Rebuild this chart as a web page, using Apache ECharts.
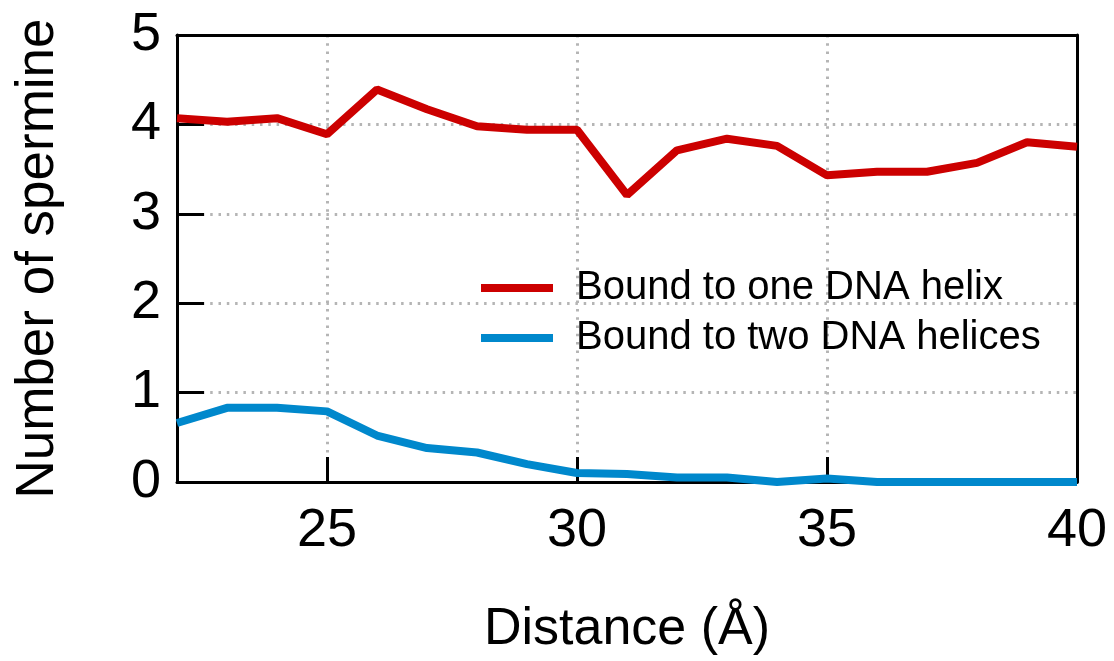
<!DOCTYPE html>
<html>
<head>
<meta charset="utf-8">
<script src="https://cdn.jsdelivr.net/npm/echarts@6/dist/echarts.min.js"></script>
<style>
html,body{margin:0;padding:0;background:#fff;}
#chart{width:1114px;height:661px;}
</style>
</head>
<body>
<div id="chart"></div>
<script>
var distances = [22,23,24,25,26,27,28,29,30,31,32,33,34,35,36,37,38,39,40];
var boundOne = [4.07,4.03,4.07,3.89,4.39,4.17,3.98,3.94,3.94,3.21,3.71,3.84,3.76,3.43,3.47,3.47,3.57,3.80,3.75];
var boundTwo = [0.66,0.83,0.83,0.79,0.52,0.38,0.33,0.20,0.10,0.09,0.05,0.05,0.00,0.04,0.00,0.00,0.00,0.00,0.00];
var xTicks = [25,30,35,40];
var seriesNames = ['Bound to one DNA helix','Bound to two DNA helices'];

function pairs(xs, ys){ return xs.map(function(x,i){ return [x, ys[i]]; }); }

var font = 'Liberation Sans';
var dotted = {color:'#b5b5b5',width:3,type:[2.5,5.8]};
var frameLine = {show:true,onZero:false,lineStyle:{color:'#000',width:3}};
var chart = echarts.init(document.getElementById('chart'), null, {renderer:'canvas'});
chart.setOption({
  animation:false,
  backgroundColor:'#fff',
  grid:{left:177,right:37,top:35,bottom:176},
  legend:{
    orient:'vertical', left:481, top:266, padding:0,
    itemWidth:72, itemHeight:8, itemGap:6, icon:'rect',
    textStyle:{fontFamily:font,fontSize:40,color:'#000',lineHeight:44,padding:[0,0,0,18]},
    data:seriesNames
  },
  xAxis:[{
    type:'value', min:22, max:40, position:'bottom',
    name:'Distance (Å)', nameLocation:'middle', nameGap:122,
    nameTextStyle:{fontFamily:font,fontSize:52,color:'#000'},
    axisLine:frameLine,
    axisTick:{show:true,inside:true,length:25,lineStyle:{color:'#000',width:3},customValues:xTicks},
    axisLabel:{fontFamily:font,fontSize:54,color:'#000',margin:22,customValues:xTicks},
    splitLine:{show:true,showMinLine:true,showMaxLine:false,lineStyle:dotted}
  },{
    type:'value', min:22, max:40, position:'top',
    axisLine:frameLine, axisTick:{show:false}, axisLabel:{show:false}, splitLine:{show:false}
  }],
  yAxis:[{
    type:'value', min:0, max:5, interval:1, position:'left',
    name:'Number of spermine', nameLocation:'middle', nameGap:112,
    nameTextStyle:{fontFamily:font,fontSize:53,color:'#000'},
    axisLine:frameLine,
    axisTick:{show:true,inside:true,length:27,lineStyle:{color:'#000',width:3}},
    axisLabel:{fontFamily:font,fontSize:54,color:'#000',margin:16},
    splitLine:{show:true,showMinLine:false,showMaxLine:false,lineStyle:dotted}
  },{
    type:'value', min:0, max:5, interval:1, position:'right',
    axisLine:frameLine, axisTick:{show:false}, axisLabel:{show:false}, splitLine:{show:false}
  }],
  series:[
    {name:seriesNames[0],type:'line',data:pairs(distances,boundOne),showSymbol:false,symbol:'none',
     lineStyle:{color:'#cc0000',width:8},itemStyle:{color:'#cc0000'},clip:false,z:5,zlevel:1},
    {name:seriesNames[1],type:'line',data:pairs(distances,boundTwo),showSymbol:false,symbol:'none',
     lineStyle:{color:'#0088cc',width:8},itemStyle:{color:'#0088cc'},clip:false,z:5,zlevel:1}
  ]
});
</script>
</body>
</html>
